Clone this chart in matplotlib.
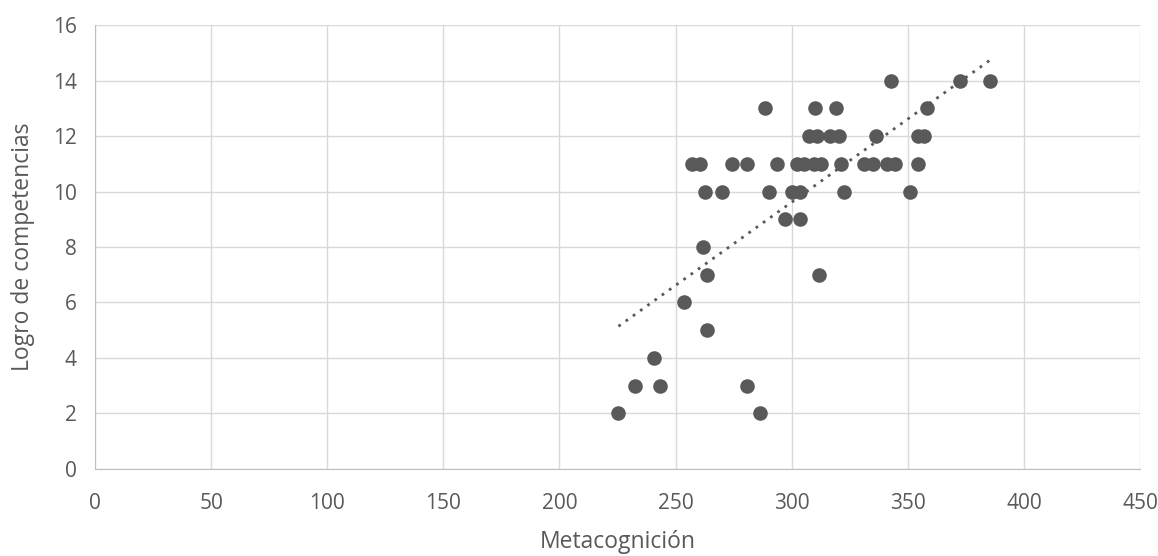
import numpy as np
import matplotlib
matplotlib.use("Agg")
import matplotlib.pyplot as plt

# ------------- DATA -------------
metacognicion = [
    342.8, 372.5, 385.4,                                   # 14
    288.3, 309.9, 319.0, 358.1,                            # 13
    307.5, 310.7, 316.5, 320.5, 336.3, 354.3, 357.0,       # 12
    257.0, 260.5, 274.2, 280.6, 293.5, 302.3, 305.5,
    309.5, 312.7, 321.1, 331.0, 335.0, 341.0, 344.3, 354.6,  # 11
    262.7, 269.9, 290.2, 300.0, 303.6, 322.5, 351.0,       # 10
    297.1, 303.6,                                          # 9
    261.7,                                                 # 8
    263.4, 311.8,                                          # 7
    253.6,                                                 # 6
    263.4,                                                 # 5
    240.7,                                                 # 4
    232.5, 243.3, 280.6,                                   # 3
    225.4, 286.4,                                          # 2
]
logro = (
    [14] * 3 + [13] * 4 + [12] * 7 + [11] * 15 + [10] * 7 + [9] * 2
    + [8] + [7] * 2 + [6] + [5] + [4] + [3] * 3 + [2] * 2
)

x = np.array(metacognicion)
y = np.array(logro)

# linear trend line (like Excel)
slope, intercept = np.polyfit(x, y, 1)
xt = np.array([x.min(), x.max()])
yt = slope * xt + intercept

grey = "#595959"
grid_c = "#d9d9d9"

plt.rcParams["font.family"] = ["Open Sans", "DejaVu Sans"]

fig = plt.figure(figsize=(11.58, 5.56), dpi=100)
ax = fig.add_axes([0.082, 0.1565, 0.9025, 0.7985])

ax.scatter(x, y, s=110, color=grey, zorder=3, linewidths=0)
ax.plot(xt, yt, linestyle=(0, (1, 2.2)), color=grey, linewidth=2, zorder=4)

ax.set_xlim(0, 450)
ax.set_ylim(0, 16)
ax.set_xticks(np.arange(0, 451, 50))
ax.set_yticks(np.arange(0, 17, 2))
ax.grid(True, color=grid_c, linewidth=1)
ax.set_axisbelow(True)
ax.tick_params(length=0, labelsize=15, colors=grey)
ax.tick_params(axis="x", pad=17)
ax.tick_params(axis="y", pad=13)
for s in ax.spines.values():
    s.set_visible(False)
ax.spines["bottom"].set_visible(True)
ax.spines["bottom"].set_color("#bfbfbf")
ax.spines["left"].set_visible(True)
ax.spines["left"].set_color("#bfbfbf")

ax.set_xlabel("Metacognición", fontsize=16.5, color=grey, labelpad=12)
ax.set_ylabel("Logro de competencias", fontsize=16.5, color=grey, labelpad=13)

fig.savefig("out.png", dpi=100)
